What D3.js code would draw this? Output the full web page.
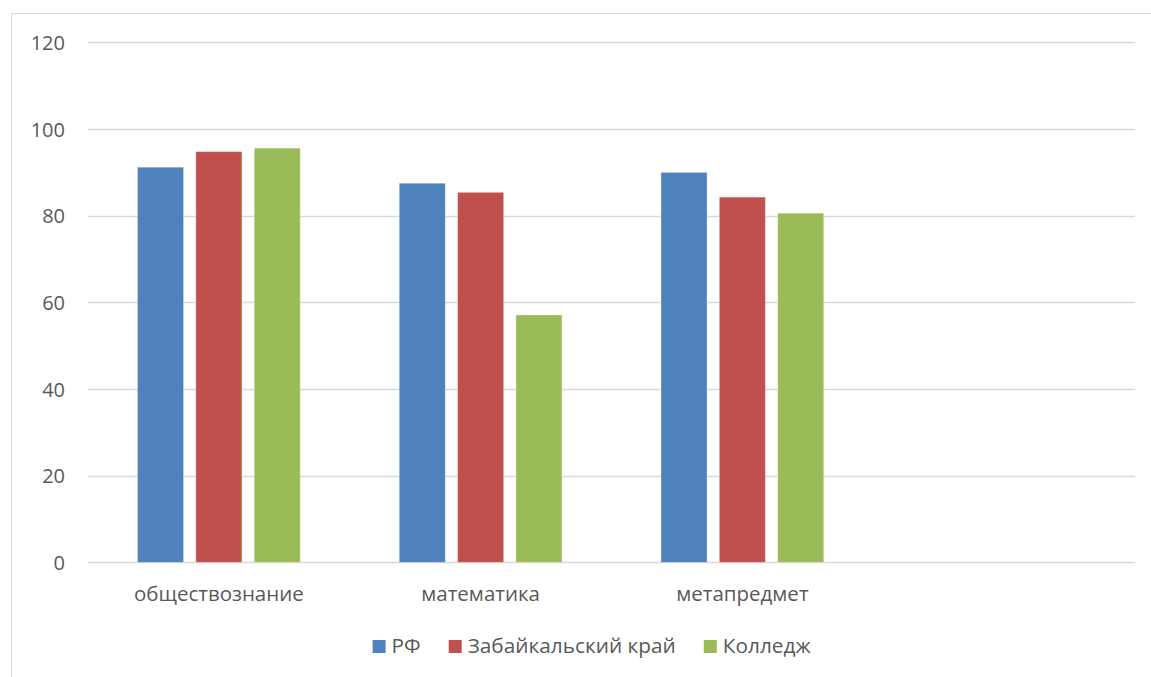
<!DOCTYPE html>
<html>
<head>
<meta charset="utf-8">
<script src="https://cdn.jsdelivr.net/npm/d3@7"></script>
<style>
  html, body { margin: 0; padding: 0; background: #fff; }
  svg { display: block; }
  text { font-family: "Open Sans", "Liberation Sans", sans-serif; fill: #595959; }
</style>
</head>
<body>
<svg id="chart" width="1151" height="677"></svg>
<script>
const categories = ["обществознание", "математика", "метапредмет", ""];
const seriesNames = ["РФ", "Забайкальский край", "Колледж"];
const seriesColors = ["#4F81BD", "#C0504D", "#9BBB59"];
const valuesRF = [91.2, 87.5, 90.0, null];
const valuesZab = [94.8, 85.4, 84.3, null];
const valuesCollege = [95.6, 57.1, 80.6, null];
const yTicks = [0, 20, 40, 60, 80, 100, 120];

const series = [valuesRF, valuesZab, valuesCollege];

const W = 1151, H = 677;
const svg = d3.select("#chart");

// outer chart border
svg.append("rect")
  .attr("x", 11.5).attr("y", 13.5)
  .attr("width", W + 20).attr("height", H + 20)
  .attr("fill", "none").attr("stroke", "#d9d9d9").attr("stroke-width", 1);

const plot = { left: 88, right: 1135, top: 42.4, bottom: 562.4 };

const x0 = d3.scaleBand().domain(categories.map((c, i) => i))
  .range([plot.left, plot.right]).padding(0);
const step = x0.bandwidth();
const x1 = d3.scaleBand().domain(d3.range(series.length))
  .range([step * 0.189, step * 0.811]).paddingInner(0.21).paddingOuter(0);
const y = d3.scaleLinear().domain([0, 120]).range([plot.bottom, plot.top]);

// gridlines
svg.append("g").selectAll("line").data(yTicks).join("line")
  .attr("x1", plot.left).attr("x2", plot.right)
  .attr("y1", d => Math.round(y(d)) + 0.5).attr("y2", d => Math.round(y(d)) + 0.5)
  .attr("stroke", "#d9d9d9").attr("stroke-width", 1.3);

// y axis labels
const yAxis = d3.axisLeft(y).tickValues(yTicks).tickSize(0).tickPadding(0);
const gy = svg.append("g").attr("transform", `translate(65,0)`).call(yAxis);
gy.select(".domain").remove();
gy.selectAll("text").attr("font-size", 20).attr("fill", "#595959")
  .attr("font-family", '"Open Sans", sans-serif').attr("dy", "0.35em");

// bars
const groups = svg.append("g").selectAll("g").data(categories.map((c, i) => i)).join("g")
  .attr("transform", i => `translate(${x0(i)},0)`);
groups.selectAll("rect")
  .data(i => series.map((s, k) => ({ k, v: s[i] })).filter(d => d.v != null))
  .join("rect")
  .attr("x", d => x1(d.k))
  .attr("width", x1.bandwidth())
  .attr("y", d => y(d.v))
  .attr("height", d => y(0) - y(d.v))
  .attr("fill", d => seriesColors[d.k])
  .attr("stroke", "#ffffff").attr("stroke-opacity", 0.35).attr("stroke-width", 1);

// x axis labels
const xAxis = d3.axisBottom(x0).tickFormat(i => categories[i]).tickSize(0).tickPadding(0);
const gx = svg.append("g").attr("transform", `translate(0,${plot.bottom})`).call(xAxis);
gx.select(".domain").remove();
gx.selectAll("text").attr("font-size", 20.5).attr("fill", "#595959")
  .attr("font-family", '"Open Sans", sans-serif').attr("dy", null).attr("y", 39);

// legend
const legend = svg.append("g");
const items = legend.selectAll("g").data(seriesNames).join("g");
items.append("rect").attr("width", 13).attr("height", 13).attr("y", 640)
  .attr("fill", (d, i) => seriesColors[i]);
items.append("text").attr("x", 19).attr("y", 653).attr("font-size", 20.8)
  .text(d => d);
let cx = 0;
const widths = [];
items.each(function () { widths.push(this.getBBox().width); });
const total = d3.sum(widths) + 28 * (widths.length - 1);
cx = 592 - total / 2;
items.attr("transform", (d, i) => {
  const t = `translate(${cx},0)`;
  cx += widths[i] + 28;
  return t;
});
</script>
</body>
</html>
